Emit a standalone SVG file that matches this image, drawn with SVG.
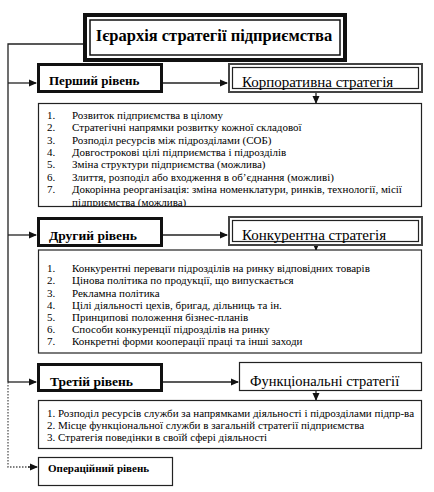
<svg xmlns="http://www.w3.org/2000/svg" width="434" height="492" viewBox="0 0 434 492" font-family="'Liberation Serif', 'Times New Roman', Tinos, 'DejaVu Serif', serif">
<style>
text{font-family:'Liberation Serif','Times New Roman',Tinos,'DejaVu Serif',serif;fill:#000}
.b{font-weight:bold}
.li{font-size:11px}
.thick{fill:#fff;stroke:#111;stroke-width:3}
.thin{fill:#fff;stroke:#222;stroke-width:1.2}
.dbo{fill:#fff;stroke:#444;stroke-width:2}
.dbi{fill:none;stroke:#222;stroke-width:1.2}
.ln{fill:none;stroke:#222;stroke-width:1.3}
.dot{fill:none;stroke:#555;stroke-width:1.3;stroke-dasharray:1.5 1.5}
</style>
<defs>
<marker id="ah" markerWidth="8" markerHeight="8" refX="7" refY="4" orient="auto" markerUnits="userSpaceOnUse">
<path d="M0,0.5 L8,4 L0,7.5 Z" fill="#111"/>
</marker>
<clipPath id="c1"><rect x="38" y="103" width="384" height="103"/></clipPath>
</defs>

<g id="connectors">
<path class="ln" d="M83,44 H8 V382"/>
<path class="dot" d="M8,382 V467 H30"/>
<path class="ln" d="M8,83 H36" marker-end="url(#ah)"/>
<path class="ln" d="M8,235 H36" marker-end="url(#ah)"/>
<path class="ln" d="M8,382 H36" marker-end="url(#ah)"/>
<path class="ln" d="M28,467 H37" marker-end="url(#ah)"/>
<path class="ln" d="M163,83 H227" marker-end="url(#ah)"/>
<path class="ln" d="M163,235 H227" marker-end="url(#ah)"/>
<path class="ln" d="M163,382 H238" marker-end="url(#ah)"/>
<path class="ln" d="M316,93 V103" marker-end="url(#ah)"/>
<path class="ln" d="M316,242 V250" marker-end="url(#ah)"/>
<path class="ln" d="M316,390 V400" marker-end="url(#ah)"/>
</g>

<g id="title">
<rect x="85" y="15" width="260" height="45" fill="#fff" stroke="#111" stroke-width="4"/>
<rect x="90" y="20" width="250" height="35" fill="none" stroke="#111" stroke-width="1.5"/>
<text class="b" x="214" y="41" font-size="16.5" text-anchor="middle">Ієрархія стратегії підприємства</text>
</g>

<g id="level1">
<rect class="thick" x="38.5" y="64.5" width="123" height="27"/>
<text class="b" x="49" y="85" font-size="13">Перший рівень</text>
</g>
<g id="corp">
<rect class="dbo" x="229" y="64" width="193" height="28"/>
<rect class="dbi" x="232.5" y="67.5" width="186" height="21"/>
<text x="242" y="87" font-size="15">Корпоративна стратегія</text>
</g>
<g id="list1">
<rect class="thin" x="38.5" y="103.5" width="383" height="103"/>
<g clip-path="url(#c1)">
<text class="li" x="47" y="119">1.</text><text class="li" x="72" y="119">Розвиток підприємства в цілому</text>
<text class="li" x="47" y="131">2.</text><text class="li" x="72" y="131">Стратегічні напрямки розвитку кожної складової</text>
<text class="li" x="47" y="143.5">3.</text><text class="li" x="72" y="143.5">Розподіл ресурсів між підрозділами (СОБ)</text>
<text class="li" x="47" y="156">4.</text><text class="li" x="72" y="156">Довгострокові цілі підприємства і підрозділів</text>
<text class="li" x="47" y="168">5.</text><text class="li" x="72" y="168">Зміна структури підприємства (можлива)</text>
<text class="li" x="47" y="180.5">6.</text><text class="li" x="72" y="180.5">Злиття, розподіл або входження в об’єднання (можливі)</text>
<text class="li" x="47" y="193">7.</text><text class="li" x="72" y="193">Докорінна реорганізація: зміна номенклатури, ринків, технології, місії</text>
<text class="li" x="72" y="205.5">підприємства (можлива)</text>
</g>
</g>

<g id="level2">
<rect class="thick" x="38.5" y="218.5" width="123" height="27"/>
<text class="b" x="49" y="240" font-size="13.5">Другий рівень</text>
</g>
<g id="comp">
<rect class="dbo" x="229" y="217" width="193" height="28"/>
<rect class="dbi" x="232.5" y="220.5" width="186" height="21"/>
<text x="242" y="240" font-size="15">Конкурентна стратегія</text>
</g>
<g id="list2">
<rect class="thin" x="38.5" y="250" width="383" height="103"/>
<text class="li" x="47" y="272">1.</text><text class="li" x="72" y="272">Конкурентні переваги підрозділів на ринку відповідних товарів</text>
<text class="li" x="47" y="284">2.</text><text class="li" x="72" y="284">Цінова політика по продукції, що випускається</text>
<text class="li" x="47" y="296.5">3.</text><text class="li" x="72" y="296.5">Рекламна політика</text>
<text class="li" x="47" y="309">4.</text><text class="li" x="72" y="309">Цілі діяльності цехів, бригад, дільниць та ін.</text>
<text class="li" x="47" y="321">5.</text><text class="li" x="72" y="321">Принципові положення бізнес-планів</text>
<text class="li" x="47" y="333">6.</text><text class="li" x="72" y="333">Способи конкуренції підрозділів на ринку</text>
<text class="li" x="47" y="345">7.</text><text class="li" x="72" y="345">Конкретні форми кооперації праці та інші заходи</text>
</g>

<g id="level3">
<rect class="thick" x="38.5" y="364.5" width="123" height="26"/>
<text class="b" x="50" y="386" font-size="13.5">Третій рівень</text>
</g>
<g id="func">
<rect class="thin" x="239.5" y="362.5" width="182" height="28"/>
<text x="250" y="386" font-size="14.5">Функціональні стратегії</text>
</g>
<g id="list3">
<rect class="thin" x="38.5" y="400.5" width="383" height="48"/>
<text class="li" x="47" y="417">1. Розподіл ресурсів служби за напрямками діяльності і підрозділами підпр-ва</text>
<text class="li" x="47" y="429">2. Місце функціональної служби в загальній стратегії підприємства</text>
<text class="li" x="47" y="441">3. Стратегія поведінки в своїй сфері діяльності</text>
</g>

<g id="operational">
<rect class="thin" x="38.5" y="457.5" width="134" height="28"/>
<text class="b" x="48" y="471.5" font-size="11">Операційний рівень</text>
</g>
</svg>
